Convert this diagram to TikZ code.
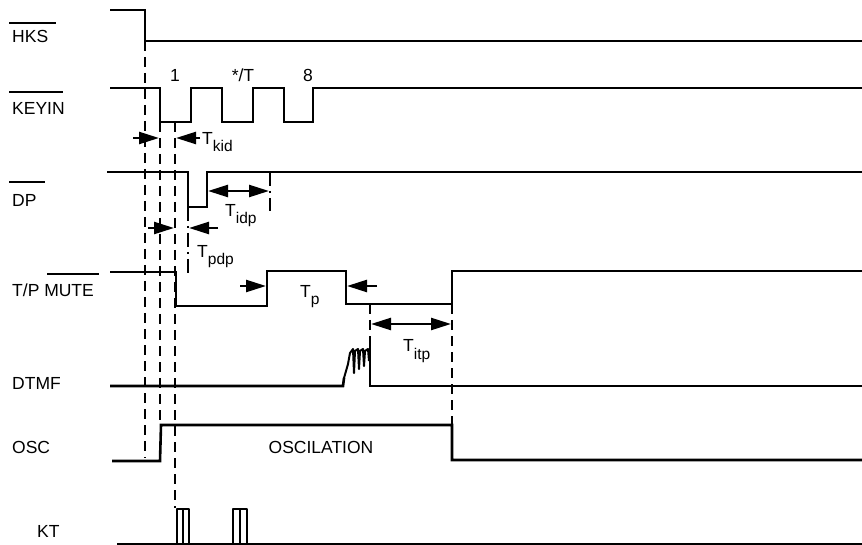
\documentclass[tikz,border=0pt]{standalone}
\usepackage{fontspec}
\setmainfont{Liberation Sans}
\usetikzlibrary{arrows.meta}
\newcommand{\Tsub}[1]{T\raisebox{-7pt}{\fontsize{15.5}{16}\selectfont #1}}
\begin{document}
\begin{tikzpicture}[x=1pt,y=-1pt,
  sig/.style={line width=2.6pt, line join=miter},
  burst/.style={line width=2pt, line join=round},
  dsh/.style={line width=2.6pt, dash pattern=on 10pt off 6pt},
  dd/.style={line width=2.4pt, dash pattern=on 14pt off 5pt on 2pt off 5pt},
  arr/.style={line width=2.4pt,-{Triangle[length=20pt,width=12pt]}},
  darr/.style={line width=2.4pt,{Triangle[length=20pt,width=12pt]}-{Triangle[length=20pt,width=12pt]}},
  lbl/.style={font=\fontsize{17.5}{20}\selectfont, inner sep=0pt},
  ovl/.style={line width=2.4pt}]
\useasboundingbox (0,0) rectangle (862,545);

% signal names
\node[lbl, anchor=base west] (nhks) at (12,43) {HKS};
\node[lbl, anchor=base west] (nkey) at (12,115) {KEYIN};
\node[lbl, anchor=base west] (ndp) at (12,207) {DP};
\node[lbl, anchor=base west] (ntp) at (12,297) {T/P MUTE};
\node[lbl, anchor=base west] (ndtmf) at (12,389) {DTMF};
\node[lbl, anchor=base west] (nosc) at (12,453) {OSC};
\node[lbl, anchor=base west] (nkt) at (37,537) {KT};
\draw[ovl] (9,23) -- (56,23);
\draw[ovl] (9,92) -- (63,92);
\draw[ovl] (9,182) -- (45,182);
\draw[ovl] (47,274) -- (99,274);

% key labels
\node[lbl, anchor=base] (k1) at (175,82) {1};
\node[lbl, anchor=base] (k2) at (243,82) {*/T};
\node[lbl, anchor=base] (k3) at (308,82) {8};

% dashed guide lines
\draw[dsh] (145,41) -- (145,458);
\draw[dsh] (160,122) -- (160,424);
\draw[dsh] (175,122) -- (175,508);
\draw[dd] (188,207) -- (188,273);
\draw[dd] (270,172) -- (270,211);
\draw[dsh] (370,304) -- (370,345);
\draw[dsh] (452,304) -- (452,425);

% waveforms
\draw[sig] (110,10) -- (145,10) -- (145,41) -- (862,41);
\draw[sig] (110,88) -- (160,88) -- (160,122) -- (191,122) -- (191,88) -- (222,88) -- (222,122) -- (253,122) -- (253,88) -- (284,88) -- (284,122) -- (313,122) -- (313,88) -- (862,88);
\draw[sig] (107,172) -- (188,172) -- (188,207) -- (207,207) -- (207,172) -- (862,172);
\draw[sig] (110,272) -- (176,272) -- (176,306) -- (267,306) -- (267,271) -- (346,271) -- (346,304) -- (452,304) -- (452,271) -- (862,271);
\draw[sig] (110,386) -- (343,386) -- (344,378);
\draw[burst] (344,378) -- (348,364) -- (350,353) -- (353,349) -- (354,373) -- (355,351) -- (358,349) -- (359,369) -- (360,351) -- (363,349) -- (364,366) -- (365,351) -- (368,349) -- (369,361);
\draw[sig] (370,345) -- (370,386) -- (862,386);
\draw[sig] (112,461) -- (160,461) -- (161,425) -- (452,425) -- (452,460) -- (862,460);
\draw[sig] (117,544) -- (862,544);
\draw[burst, line width=2.2pt] (177,544) -- (177,509) -- (189,509) -- (189,544) (183,509) -- (183,544);
\draw[burst, line width=2.2pt] (233,544) -- (233,509) -- (247,509) -- (247,544) (240,509) -- (240,544);

% timing arrows
\draw[arr] (133,138) -- (159,138);
\draw[arr] (200,138) -- (176,138);
\node[lbl, anchor=base west] (tkid) at (202,145) {\Tsub{kid}};
\draw[darr] (208,191) -- (269,191);
\node[lbl, anchor=base west] (tidp) at (225,217) {\Tsub{idp}};
\draw[arr] (148,228) -- (174,228);
\draw[arr] (218,228) -- (189,228);
\node[lbl, anchor=base west] (tpdp) at (197,258) {\Tsub{pdp}};
\draw[arr] (240,286) -- (266,286);
\draw[arr] (377,286) -- (347,286);
\node[lbl, anchor=base west] (tp) at (300,298) {\Tsub{p}};
\draw[darr] (371,324) -- (451,324);
\node[lbl, anchor=base west] (titp) at (403,352) {\Tsub{itp}};

\node[lbl, anchor=base] (osct) at (321,453) {OSCILATION};
\end{tikzpicture}
\end{document}
